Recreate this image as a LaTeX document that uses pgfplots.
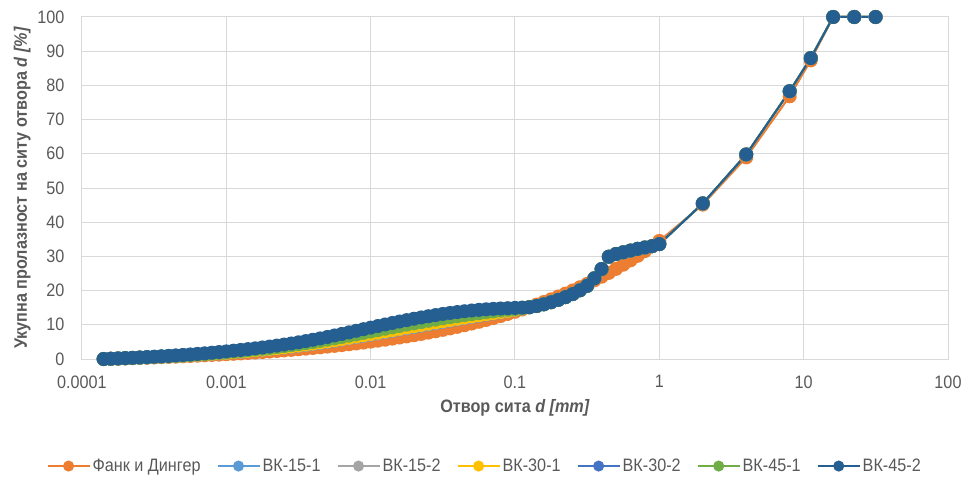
\documentclass[border=0pt]{standalone}
\usepackage{fontspec}
\setmainfont{Liberation Sans}[FakeStretch=0.9]
\usepackage{pgfplots}
\usepackage{pgfplotstable}
\pgfplotsset{compat=1.18}
\definecolor{fdc}{HTML}{ED7D31}
\definecolor{cA}{HTML}{5B9BD5}
\definecolor{cB}{HTML}{A5A5A5}
\definecolor{cC}{HTML}{FFC000}
\definecolor{cD}{HTML}{4472C4}
\definecolor{cE}{HTML}{70AD47}
\definecolor{cF}{HTML}{255E91}
\definecolor{gridc}{HTML}{D9D9D9}
\definecolor{labc}{HTML}{595959}
\newcommand{\tf}{\fontsize{18bp}{22bp}\selectfont}
\pgfplotstableread{
d fd a b c e f g
0.0001413 0 0 0 0 0 0 0
0.0001585 0.06 0.07 0.07 0.07 0.08 0.07 0.08
0.0001778 0.12 0.14 0.15 0.15 0.16 0.16 0.17
0.0001995 0.18 0.22 0.22 0.22 0.25 0.24 0.26
0.0002239 0.24 0.30 0.30 0.30 0.33 0.32 0.35
0.0002512 0.31 0.38 0.38 0.39 0.43 0.41 0.45
0.0002818 0.38 0.47 0.47 0.47 0.52 0.50 0.55
0.0003162 0.46 0.56 0.57 0.57 0.63 0.60 0.66
0.0003548 0.53 0.66 0.66 0.67 0.74 0.71 0.78
0.0003981 0.61 0.76 0.76 0.77 0.86 0.82 0.90
0.0004467 0.70 0.87 0.87 0.88 0.98 0.94 1.03
0.0005012 0.78 0.98 0.99 0.99 1.11 1.06 1.17
0.0005623 0.88 1.10 1.11 1.12 1.25 1.20 1.32
0.000631 0.97 1.23 1.24 1.25 1.40 1.34 1.48
0.0007079 1.07 1.36 1.38 1.39 1.56 1.49 1.65
0.0007943 1.18 1.51 1.52 1.54 1.73 1.65 1.83
0.0008913 1.28 1.65 1.67 1.69 1.91 1.81 2.02
0.001 1.40 1.81 1.83 1.85 2.10 1.99 2.22
0.001122 1.52 1.98 2.00 2.02 2.29 2.18 2.43
0.001259 1.64 2.15 2.18 2.20 2.50 2.37 2.65
0.001413 1.77 2.33 2.36 2.38 2.71 2.57 2.88
0.001585 1.90 2.51 2.55 2.57 2.94 2.78 3.12
0.001778 2.04 2.71 2.74 2.77 3.17 3.00 3.37
0.001995 2.19 2.92 2.96 2.99 3.42 3.23 3.64
0.002239 2.35 3.14 3.18 3.21 3.68 3.48 3.92
0.002512 2.51 3.37 3.42 3.45 3.96 3.74 4.22
0.002818 2.67 3.61 3.66 3.70 4.26 4.02 4.54
0.003162 2.85 3.87 3.93 3.97 4.58 4.31 4.88
0.003548 3.03 4.14 4.20 4.25 4.91 4.62 5.24
0.003981 3.22 4.42 4.49 4.54 5.26 4.95 5.62
0.004467 3.42 4.72 4.80 4.85 5.63 5.29 6.02
0.005012 3.63 5.04 5.12 5.18 6.02 5.65 6.44
0.005623 3.84 5.36 5.45 5.51 6.42 6.03 6.88
0.00631 4.07 5.70 5.80 5.86 6.84 6.42 7.33
0.007079 4.31 6.05 6.15 6.22 7.27 6.82 7.79
0.007943 4.55 6.40 6.51 6.59 7.70 7.21 8.25
0.008913 4.81 6.77 6.88 6.96 8.13 7.63 8.72
0.01 5.08 7.13 7.25 7.34 8.57 8.03 9.18
0.01122 5.36 7.50 7.63 7.71 9.00 8.44 9.64
0.01259 5.65 7.87 8.00 8.09 9.42 8.85 10.09
0.01413 5.96 8.25 8.38 8.47 9.84 9.25 10.53
0.01585 6.28 8.62 8.76 8.85 10.26 9.65 10.96
0.01778 6.61 8.99 9.13 9.23 10.66 10.04 11.37
0.01995 6.96 9.37 9.51 9.61 11.05 10.42 11.77
0.02239 7.33 9.74 9.88 9.98 11.43 10.80 12.15
0.02512 7.71 10.11 10.25 10.35 11.79 11.17 12.51
0.02818 8.10 10.48 10.62 10.71 12.14 11.52 12.85
0.03162 8.52 10.85 10.98 11.08 12.47 11.87 13.17
0.03548 8.95 11.21 11.34 11.43 12.78 12.20 13.46
0.03981 9.40 11.57 11.69 11.78 13.08 12.52 13.73
0.04467 9.88 11.93 12.05 12.13 13.36 12.82 13.97
0.05012 10.37 12.28 12.39 12.47 13.61 13.11 14.18
0.05623 10.88 12.63 12.73 12.80 13.85 13.39 14.37
0.0631 11.42 12.98 13.07 13.13 14.06 13.66 14.53
0.07079 11.98 13.32 13.40 13.45 14.26 13.91 14.66
0.07943 12.56 13.67 13.73 13.78 14.44 14.15 14.77
0.08913 13.18 14.02 14.07 14.10 14.61 14.39 14.86
0.1 13.81 14.38 14.41 14.43 14.77 14.62 14.94
0.1122 14.48 14.76 14.77 14.78 14.95 14.88 15.03
0.1259 15.18 15.14 15.14 15.14 15.14 15.14 15.14
0.1413 15.90 15.50 15.50 15.50 15.50 15.50 15.50
0.1585 16.66 16.00 16.00 16.00 16.00 16.00 16.00
0.1778 17.45 16.60 16.60 16.60 16.60 16.60 16.60
0.1995 18.28 17.30 17.30 17.30 17.30 17.30 17.30
0.2239 19.14 18.10 18.10 18.10 18.10 18.10 18.10
0.2512 20.04 19.00 19.00 19.00 19.00 19.00 19.00
0.2818 20.98 20.10 20.10 20.10 20.10 20.10 20.10
0.3162 21.97 21.40 21.40 21.40 21.40 21.40 21.40
0.3548 22.99 23.60 23.60 23.60 23.60 23.60 23.60
0.3981 24.06 26.30 26.30 26.30 26.30 26.30 26.30
0.4467 25.18 29.90 29.90 29.90 29.90 29.90 29.90
0.5012 26.35 30.70 30.70 30.70 30.70 30.70 30.70
0.5623 27.57 31.20 31.20 31.20 31.20 31.20 31.20
0.631 28.84 31.70 31.70 31.70 31.70 31.70 31.70
0.7079 30.17 32.20 32.20 32.20 32.20 32.20 32.20
0.7943 31.56 32.60 32.60 32.60 32.60 32.60 32.60
0.8913 33.01 33.00 33.00 33.00 33.00 33.00 33.00
1 34.52 33.60 33.60 33.60 33.60 33.60 33.60
2 45.15 45.50 45.50 45.50 45.50 45.50 45.50
4 58.94 59.80 59.80 59.80 59.80 59.80 59.80
8 76.82 78.30 78.30 78.30 78.30 78.30 78.30
11.2 87.32 88.00 88.00 88.00 88.00 88.00 88.00
16 100 100 100 100 100 100 100
22.4 100 100 100 100 100 100 100
31.5 100 100 100 100 100 100 100
}\data
\begin{document}
\begin{tikzpicture}
\begin{axis}[
  name=ax, scale only axis, width=866bp, height=342bp,
  xmode=log, log basis x=10, xmin=1e-4, xmax=100, ymin=0, ymax=100,
  xtick={1e-4,1e-3,0.01,0.1,1,10,100},
  xticklabels={0.0001,0.001,0.01,0.1,1,10,100},
  ytick={0,10,20,30,40,50,60,70,80,90,100},
  yticklabels={0,10,20,30,40,50,60,70,80,90,100},
  xminorticks=false, yminorticks=false,
  grid=major, major grid style={draw=gridc, line width=1bp},
  axis line style={draw=gridc, line width=1bp},
  major tick length=0pt, tick style={draw=none},
  ticklabel style={font=\tf, text=labc},
  xticklabel style={yshift=-13bp},
  yticklabel style={xshift=-14bp},
  xlabel={\textbf{Отвор сита \textit{d [mm]}}},
  ylabel={\textbf{Укупна пролазност на ситу отвора \textit{d [\%]}}},
  label style={font=\tf, text=labc},
  xlabel style={yshift=-4bp},
  clip=false,
  every axis plot/.append style={line width=2bp, mark=*, mark size=6bp},
  legend columns=7,
  legend style={at={(0.465,-0.313)}, anchor=center, draw=none, fill=none,
    font=\tf, text=labc,
    /tikz/every even column/.append style={column sep=14bp}},
  legend image code/.code={\draw[mark repeat=2,mark phase=2,mark size=4.5bp] plot coordinates {(0bp,0bp)(21bp,0bp)(42bp,0bp)};},
]
\addplot[color=fdc, mark options={fill=fdc, draw=fdc}] table[x=d, y=fd] {\data};
\addlegendentry{Фанк и Дингер}
\addplot[color=cA, mark options={fill=cA, draw=cA}] table[x=d, y=a] {\data};
\addlegendentry{ВК-15-1}
\addplot[color=cB, mark options={fill=cB, draw=cB}] table[x=d, y=b] {\data};
\addlegendentry{ВК-15-2}
\addplot[color=cC, mark options={fill=cC, draw=cC}] table[x=d, y=c] {\data};
\addlegendentry{ВК-30-1}
\addplot[color=cD, mark options={fill=cD, draw=cD}] table[x=d, y=e] {\data};
\addlegendentry{ВК-30-2}
\addplot[color=cE, mark options={fill=cE, draw=cE}] table[x=d, y=f] {\data};
\addlegendentry{ВК-45-1}
\addplot[color=cF, mark options={fill=cF, draw=cF}] table[x=d, y=g] {\data};
\addlegendentry{ВК-45-2}
\end{axis}
\pgfresetboundingbox
\path ([xshift=-82bp,yshift=-118bp]ax.south west) rectangle ([xshift=19bp,yshift=17bp]ax.north east);
\end{tikzpicture}
\end{document}
